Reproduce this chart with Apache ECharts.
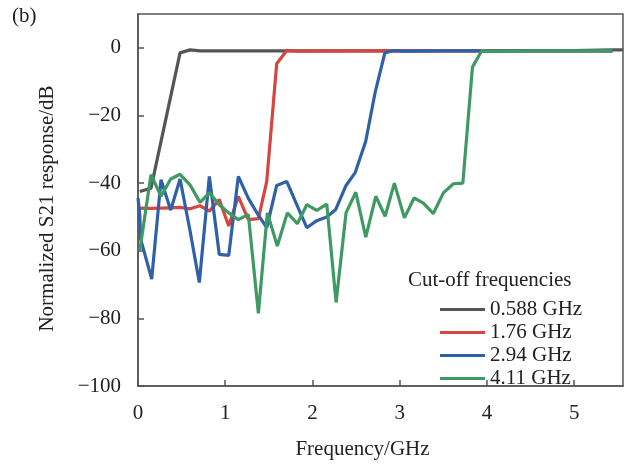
<!DOCTYPE html>
<html><head><meta charset="utf-8">
<script src="https://cdn.jsdelivr.net/npm/echarts@6/dist/echarts.min.js"></script>
<style>html,body{margin:0;padding:0;background:#fff}#c{width:625px;height:465px}</style>
</head><body><div id="c"></div>
<script>
const seriesNames = ['0.588 GHz', '1.76 GHz', '2.94 GHz', '4.11 GHz'];
const colors = ['#555555', '#d6453f', '#2f60a8', '#3e9a62'];

const blackFreq = [0.02, 0.149, 0.482, 0.596, 0.711, 1.2, 2.0, 3.0, 4.0, 5.0, 5.45, 5.56];
const blackDb   = [-42.5, -41.5, -1.5, -0.6, -0.9, -0.9, -0.9, -0.9, -0.9, -0.8, -0.6, -0.6];

const redFreq = [0.02, 0.149, 0.264, 0.375, 0.482, 0.596, 0.711, 0.818, 0.932, 1.04, 1.15, 1.265, 1.38, 1.476, 1.59, 1.705, 1.82, 2.5, 3.2, 4.0, 4.8, 5.44];
const redDb   = [-47.4, -47.5, -47.4, -47.3, -47.2, -47.6, -46.7, -48.3, -44.9, -52.7, -43.9, -50.8, -50.5, -39.5, -4.7, -0.8, -1.0, -0.9, -0.9, -0.8, -0.9, -0.9];

const blueFreq = [0.0, 0.02, 0.03, 0.157, 0.264, 0.375, 0.482, 0.596, 0.703, 0.818, 0.932, 1.04, 1.15, 1.265, 1.38, 1.476, 1.59, 1.705, 1.82, 1.935, 2.049, 2.164, 2.267, 2.385, 2.49, 2.61, 2.72, 2.83, 2.93, 3.04, 3.6, 4.2, 4.8, 5.44];
const blueDb   = [-44.4, -49.3, -56.5, -68.4, -39.0, -48.0, -38.8, -54.0, -69.4, -38.0, -61.1, -61.4, -38.0, -44.5, -49.5, -53.2, -40.7, -39.5, -46.4, -53.2, -51.1, -50.0, -47.8, -40.7, -36.9, -27.7, -13.0, -1.5, -0.8, -1.0, -0.9, -0.9, -0.9, -0.9];

const greenFreq = [0.02, 0.149, 0.264, 0.375, 0.482, 0.596, 0.711, 0.818, 0.932, 1.04, 1.15, 1.265, 1.38, 1.483, 1.597, 1.712, 1.827, 1.935, 2.049, 2.164, 2.271, 2.385, 2.497, 2.611, 2.726, 2.833, 2.939, 3.054, 3.165, 3.272, 3.386, 3.501, 3.616, 3.724, 3.834, 3.942, 4.06, 4.6, 5.0, 5.44];
const greenDb   = [-60.0, -37.5, -43.9, -38.8, -37.4, -40.5, -45.7, -42.9, -46.4, -48.8, -50.8, -49.3, -78.5, -48.8, -58.6, -48.8, -52.0, -46.4, -48.1, -46.2, -75.3, -48.8, -42.7, -56.0, -43.9, -49.8, -40.0, -50.3, -44.4, -45.9, -49.0, -42.9, -40.2, -40.0, -5.7, -0.8, -1.0, -0.9, -0.9, -0.9];

const xTicks = [0, 1, 2, 3, 4, 5];
const yTicks = [-100, -80, -60, -40, -20, 0];

const freqs = [blackFreq, redFreq, blueFreq, greenFreq];
const dbs = [blackDb, redDb, blueDb, greenDb];

const FONT = 'Liberation Serif';
const chart = echarts.init(document.getElementById('c'), null, {renderer: 'canvas'});
const series = seriesNames.map((n, i) => ({
  name: n, type: 'line', showSymbol: false, symbol: 'none',
  data: freqs[i].map((f, k) => [f, dbs[i][k]]),
  lineStyle: {color: colors[i], width: 3.2},
  itemStyle: {color: colors[i]},
  z: 2 + i
}));
chart.setOption({
  animation: false,
  textStyle: {fontFamily: FONT},
  grid: {left: 138, top: 14, right: 2, bottom: 76, show: true, borderColor: '#555', borderWidth: 1.5, backgroundColor: 'transparent'},
  xAxis: {
    type: 'value', min: 0, max: 5.56, interval: 1,
    name: 'Frequency/GHz', nameLocation: 'middle', nameGap: 53,
    nameTextStyle: {fontFamily: FONT, fontSize: 21, color: '#222', padding: [0, 36, 0, 0]},
    axisLine: {show: true, onZero: false, lineStyle: {color: '#555', width: 1.5}},
    axisTick: {show: true, inside: true, length: 6, lineStyle: {color: '#555', width: 1.5}},
    axisLabel: {fontFamily: FONT, fontSize: 21, color: '#222', margin: 17, showMaxLabel: false,
      formatter: v => xTicks.includes(v) ? String(v) : ''},
    splitLine: {show: false}
  },
  yAxis: {
    type: 'value', min: -100, max: 10, interval: 20,
    name: 'Normalized S21 response/dB', nameLocation: 'middle', nameGap: 80, nameRotate: 90,
    nameTextStyle: {fontFamily: FONT, fontSize: 21, color: '#222', padding: [0, 17, 0, 0]},
    axisLine: {show: true, onZero: false, lineStyle: {color: '#555', width: 1.5}},
    axisTick: {show: true, inside: true, length: 6, lineStyle: {color: '#555', width: 1.5}},
    axisLabel: {fontFamily: FONT, fontSize: 21, color: '#222', margin: 17, showMaxLabel: false,
      formatter: v => yTicks.includes(v) ? String(v).replace('-', '\u2212') : ''},
    splitLine: {show: false}
  },
  legend: {
    orient: 'vertical', left: 435, top: 294, icon: 'rect', itemWidth: 45, itemHeight: 3, itemGap: 2,
    textStyle: {fontFamily: FONT, fontSize: 21, color: '#222', lineHeight: 21},
    data: seriesNames
  },
  graphic: [
    {type: 'text', left: 12, top: 6, style: {text: '(b)', font: '21px "Liberation Serif"', fill: '#222'}},
    {type: 'text', left: 408, top: 270, style: {text: 'Cut-off frequencies', font: '21px "Liberation Serif"', fill: '#222'}}
  ],
  series: series
});
</script></body></html>
